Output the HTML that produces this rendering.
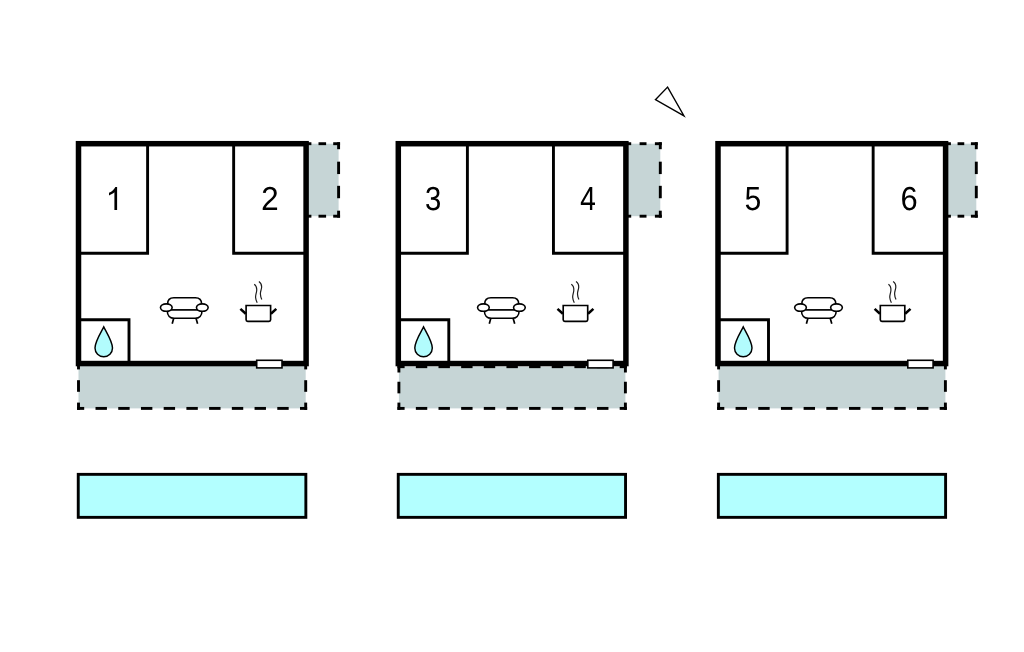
<!DOCTYPE html>
<html><head><meta charset="utf-8"><title>Floor plan</title>
<style>html,body{margin:0;padding:0;background:#fff;}svg{display:block;}text{font-family:"Liberation Sans",sans-serif;}</style></head>
<body><svg width="1024" height="652" viewBox="0 0 1024 652">
<rect width="1024" height="652" fill="#fff"/>
<g fill="#000">
<rect x="78.5" y="363.6" width="227.2" height="44.8" fill="#c6d5d6"/>
<rect x="77.05" y="406.95" width="7.15" height="2.9"/>
<rect x="95.52" y="406.95" width="11.4" height="2.9"/>
<rect x="118.24" y="406.95" width="11.4" height="2.9"/>
<rect x="140.96" y="406.95" width="11.4" height="2.9"/>
<rect x="163.68" y="406.95" width="11.4" height="2.9"/>
<rect x="186.4" y="406.95" width="11.4" height="2.9"/>
<rect x="209.12" y="406.95" width="11.4" height="2.9"/>
<rect x="231.84" y="406.95" width="11.4" height="2.9"/>
<rect x="254.56" y="406.95" width="11.4" height="2.9"/>
<rect x="277.28" y="406.95" width="11.4" height="2.9"/>
<rect x="300" y="406.95" width="7.15" height="2.9"/>
<rect x="77.05" y="362.15" width="2.9" height="7.25"/>
<rect x="77.05" y="380.2" width="2.9" height="11.6"/>
<rect x="77.05" y="402.6" width="2.9" height="7.25"/>
<rect x="304.25" y="362.15" width="2.9" height="7.25"/>
<rect x="304.25" y="380.2" width="2.9" height="11.6"/>
<rect x="304.25" y="402.6" width="2.9" height="7.25"/>
<rect x="306" y="143.7" width="32.6" height="72.5" fill="#c6d5d6"/>
<rect x="306" y="142.25" width="5.4" height="2.9"/>
<rect x="318.5" y="142.25" width="7.6" height="2.9"/>
<rect x="333.2" y="142.25" width="6.85" height="2.9"/>
<rect x="306" y="214.75" width="5.4" height="2.9"/>
<rect x="318.5" y="214.75" width="7.6" height="2.9"/>
<rect x="333.2" y="214.75" width="6.85" height="2.9"/>
<rect x="337.15" y="142.25" width="2.9" height="6.95"/>
<rect x="337.15" y="161.67" width="2.9" height="12.4"/>
<rect x="337.15" y="185.83" width="2.9" height="12.4"/>
<rect x="337.15" y="210.7" width="2.9" height="6.95"/>
<rect x="398.9" y="366.7" width="226.5" height="41.7" fill="#c6d5d6"/>
<rect x="397.45" y="406.95" width="7.15" height="2.9"/>
<rect x="415.85" y="406.95" width="11.4" height="2.9"/>
<rect x="438.5" y="406.95" width="11.4" height="2.9"/>
<rect x="461.15" y="406.95" width="11.4" height="2.9"/>
<rect x="483.8" y="406.95" width="11.4" height="2.9"/>
<rect x="506.45" y="406.95" width="11.4" height="2.9"/>
<rect x="529.1" y="406.95" width="11.4" height="2.9"/>
<rect x="551.75" y="406.95" width="11.4" height="2.9"/>
<rect x="574.4" y="406.95" width="11.4" height="2.9"/>
<rect x="597.05" y="406.95" width="11.4" height="2.9"/>
<rect x="619.7" y="406.95" width="7.15" height="2.9"/>
<rect x="397.45" y="365.25" width="7.15" height="2.9"/>
<rect x="415.85" y="365.25" width="11.4" height="2.9"/>
<rect x="438.5" y="365.25" width="11.4" height="2.9"/>
<rect x="461.15" y="365.25" width="11.4" height="2.9"/>
<rect x="483.8" y="365.25" width="11.4" height="2.9"/>
<rect x="506.45" y="365.25" width="11.4" height="2.9"/>
<rect x="529.1" y="365.25" width="11.4" height="2.9"/>
<rect x="551.75" y="365.25" width="11.4" height="2.9"/>
<rect x="574.4" y="365.25" width="11.4" height="2.9"/>
<rect x="597.05" y="365.25" width="11.4" height="2.9"/>
<rect x="619.7" y="365.25" width="7.15" height="2.9"/>
<rect x="397.45" y="365.25" width="2.9" height="7.25"/>
<rect x="397.45" y="381.75" width="2.9" height="11.6"/>
<rect x="397.45" y="402.6" width="2.9" height="7.25"/>
<rect x="623.95" y="365.25" width="2.9" height="7.25"/>
<rect x="623.95" y="381.75" width="2.9" height="11.6"/>
<rect x="623.95" y="402.6" width="2.9" height="7.25"/>
<rect x="625.8" y="143.7" width="34.5" height="72.5" fill="#c6d5d6"/>
<rect x="625.8" y="142.25" width="5.4" height="2.9"/>
<rect x="639.6" y="142.25" width="6.9" height="2.9"/>
<rect x="654.9" y="142.25" width="6.85" height="2.9"/>
<rect x="625.8" y="214.75" width="5.4" height="2.9"/>
<rect x="639.6" y="214.75" width="6.9" height="2.9"/>
<rect x="654.9" y="214.75" width="6.85" height="2.9"/>
<rect x="658.85" y="142.25" width="2.9" height="6.95"/>
<rect x="658.85" y="161.67" width="2.9" height="12.4"/>
<rect x="658.85" y="185.83" width="2.9" height="12.4"/>
<rect x="658.85" y="210.7" width="2.9" height="6.95"/>
<rect x="718.6" y="363.6" width="226.8" height="44.8" fill="#c6d5d6"/>
<rect x="717.15" y="406.95" width="7.15" height="2.9"/>
<rect x="735.58" y="406.95" width="11.4" height="2.9"/>
<rect x="758.26" y="406.95" width="11.4" height="2.9"/>
<rect x="780.94" y="406.95" width="11.4" height="2.9"/>
<rect x="803.62" y="406.95" width="11.4" height="2.9"/>
<rect x="826.3" y="406.95" width="11.4" height="2.9"/>
<rect x="848.98" y="406.95" width="11.4" height="2.9"/>
<rect x="871.66" y="406.95" width="11.4" height="2.9"/>
<rect x="894.34" y="406.95" width="11.4" height="2.9"/>
<rect x="917.02" y="406.95" width="11.4" height="2.9"/>
<rect x="939.7" y="406.95" width="7.15" height="2.9"/>
<rect x="717.15" y="362.15" width="2.9" height="7.25"/>
<rect x="717.15" y="380.2" width="2.9" height="11.6"/>
<rect x="717.15" y="402.6" width="2.9" height="7.25"/>
<rect x="943.95" y="362.15" width="2.9" height="7.25"/>
<rect x="943.95" y="380.2" width="2.9" height="11.6"/>
<rect x="943.95" y="402.6" width="2.9" height="7.25"/>
<rect x="945.5" y="143.7" width="30.8" height="72.5" fill="#c6d5d6"/>
<rect x="945.5" y="142.25" width="5.4" height="2.9"/>
<rect x="957.55" y="142.25" width="6.7" height="2.9"/>
<rect x="970.9" y="142.25" width="6.85" height="2.9"/>
<rect x="945.5" y="214.75" width="5.4" height="2.9"/>
<rect x="957.55" y="214.75" width="6.7" height="2.9"/>
<rect x="970.9" y="214.75" width="6.85" height="2.9"/>
<rect x="974.85" y="142.25" width="2.9" height="6.95"/>
<rect x="974.85" y="161.67" width="2.9" height="12.4"/>
<rect x="974.85" y="185.83" width="2.9" height="12.4"/>
<rect x="974.85" y="210.7" width="2.9" height="6.95"/>
</g>
<g transform="translate(0,0)" fill="none" stroke="#000">
<rect x="78.5" y="143.7" width="227.6" height="219.85" stroke-width="5.5"/>
<path d="M147.6,145 V253.25 H80" stroke-width="2.9"/>
<path d="M233.65,145 V253.25 H305" stroke-width="2.9"/>
<path d="M80,319.7 H129 V362" stroke-width="2.9"/>
<path d="M103.75,326.9 C101.5,331.5 95,341.5 95,348 A8.75,8.75 0 0 0 112.5,348 C112.5,341.5 106,331.5 103.75,326.9 Z" fill="#b2fcfd" stroke-width="1.45" stroke-linejoin="miter"/>
</g>
<rect x="256.7" y="360.3" width="25.3" height="7.6" fill="#fff" stroke="#000" stroke-width="1.6"/>
<g transform="translate(319.8,0)" fill="none" stroke="#000">
<rect x="78.5" y="143.7" width="227.6" height="219.85" stroke-width="5.5"/>
<path d="M147.6,145 V253.25 H80" stroke-width="2.9"/>
<path d="M233.65,145 V253.25 H305" stroke-width="2.9"/>
<path d="M80,319.7 H129 V362" stroke-width="2.9"/>
<path d="M103.75,326.9 C101.5,331.5 95,341.5 95,348 A8.75,8.75 0 0 0 112.5,348 C112.5,341.5 106,331.5 103.75,326.9 Z" fill="#b2fcfd" stroke-width="1.45" stroke-linejoin="miter"/>
</g>
<rect x="587.8" y="360.3" width="25.3" height="7.6" fill="#fff" stroke="#000" stroke-width="1.6"/>
<g transform="translate(639.5,0)" fill="none" stroke="#000">
<rect x="78.5" y="143.7" width="227.6" height="219.85" stroke-width="5.5"/>
<path d="M147.6,145 V253.25 H80" stroke-width="2.9"/>
<path d="M233.65,145 V253.25 H305" stroke-width="2.9"/>
<path d="M80,319.7 H129 V362" stroke-width="2.9"/>
<path d="M103.75,326.9 C101.5,331.5 95,341.5 95,348 A8.75,8.75 0 0 0 112.5,348 C112.5,341.5 106,331.5 103.75,326.9 Z" fill="#b2fcfd" stroke-width="1.45" stroke-linejoin="miter"/>
</g>
<rect x="907.8" y="360.3" width="25.3" height="7.6" fill="#fff" stroke="#000" stroke-width="1.6"/>
<g transform="translate(0,0)" fill="none" stroke="#000" stroke-width="1.6">
<path d="M167.6,304 C167.6,300 170,297.7 173.8,297.7 H195.4 C199.2,297.7 201.6,300 201.6,304"/>
<path d="M171,309.9 H198" stroke-width="1.7"/>
<path d="M167.3,311 C167.3,315.5 170,318.3 174.2,318.3 H195.1 C199.3,318.3 202,315.5 202,311"/>
<path d="M173.7,318.3 L172.2,323.8 M196,318.3 L197.6,323.8" stroke-width="1.7"/>
<ellipse cx="166.3" cy="307.6" rx="5.85" ry="3.7" fill="#fff"/>
<ellipse cx="202.3" cy="307.6" rx="5.85" ry="3.7" fill="#fff"/>
<path d="M246.1,305.5 H270.6 V319.7 Q270.6,321.3 269,321.3 H247.7 Q246.1,321.3 246.1,319.7 Z" fill="#fff" stroke-width="1.65"/>
<path d="M240.4,308.9 L245.8,313.7 M276.3,308.9 L270.9,313.7" stroke-width="2.6"/>
<path d="M254.2,284.2 C256.5,285.8 256.9,288 256.7,290.5 C256.4,293.5 255.4,295 255.6,297.5 C255.8,300 256.5,301.5 257.2,302.7 M258.9,281.4 C261.2,283 261.8,285 261.6,287.5 C261.3,290 260.3,291.5 260.4,294 C260.5,296.5 261.2,298.2 261.8,299.5" stroke="#1c1c1c" stroke-width="1.2"/>
</g>
<g transform="translate(317.1,0)" fill="none" stroke="#000" stroke-width="1.6">
<path d="M167.6,304 C167.6,300 170,297.7 173.8,297.7 H195.4 C199.2,297.7 201.6,300 201.6,304"/>
<path d="M171,309.9 H198" stroke-width="1.7"/>
<path d="M167.3,311 C167.3,315.5 170,318.3 174.2,318.3 H195.1 C199.3,318.3 202,315.5 202,311"/>
<path d="M173.7,318.3 L172.2,323.8 M196,318.3 L197.6,323.8" stroke-width="1.7"/>
<ellipse cx="166.3" cy="307.6" rx="5.85" ry="3.7" fill="#fff"/>
<ellipse cx="202.3" cy="307.6" rx="5.85" ry="3.7" fill="#fff"/>
<path d="M246.1,305.5 H270.6 V319.7 Q270.6,321.3 269,321.3 H247.7 Q246.1,321.3 246.1,319.7 Z" fill="#fff" stroke-width="1.65"/>
<path d="M240.4,308.9 L245.8,313.7 M276.3,308.9 L270.9,313.7" stroke-width="2.6"/>
<path d="M254.2,284.2 C256.5,285.8 256.9,288 256.7,290.5 C256.4,293.5 255.4,295 255.6,297.5 C255.8,300 256.5,301.5 257.2,302.7 M258.9,281.4 C261.2,283 261.8,285 261.6,287.5 C261.3,290 260.3,291.5 260.4,294 C260.5,296.5 261.2,298.2 261.8,299.5" stroke="#1c1c1c" stroke-width="1.2"/>
</g>
<g transform="translate(634.2,0)" fill="none" stroke="#000" stroke-width="1.6">
<path d="M167.6,304 C167.6,300 170,297.7 173.8,297.7 H195.4 C199.2,297.7 201.6,300 201.6,304"/>
<path d="M171,309.9 H198" stroke-width="1.7"/>
<path d="M167.3,311 C167.3,315.5 170,318.3 174.2,318.3 H195.1 C199.3,318.3 202,315.5 202,311"/>
<path d="M173.7,318.3 L172.2,323.8 M196,318.3 L197.6,323.8" stroke-width="1.7"/>
<ellipse cx="166.3" cy="307.6" rx="5.85" ry="3.7" fill="#fff"/>
<ellipse cx="202.3" cy="307.6" rx="5.85" ry="3.7" fill="#fff"/>
<path d="M246.1,305.5 H270.6 V319.7 Q270.6,321.3 269,321.3 H247.7 Q246.1,321.3 246.1,319.7 Z" fill="#fff" stroke-width="1.65"/>
<path d="M240.4,308.9 L245.8,313.7 M276.3,308.9 L270.9,313.7" stroke-width="2.6"/>
<path d="M254.2,284.2 C256.5,285.8 256.9,288 256.7,290.5 C256.4,293.5 255.4,295 255.6,297.5 C255.8,300 256.5,301.5 257.2,302.7 M258.9,281.4 C261.2,283 261.8,285 261.6,287.5 C261.3,290 260.3,291.5 260.4,294 C260.5,296.5 261.2,298.2 261.8,299.5" stroke="#1c1c1c" stroke-width="1.2"/>
</g>
<rect x="78.25" y="474.35" width="227.6" height="43" fill="#b3ffff" stroke="#000" stroke-width="2.9"/>
<rect x="398.25" y="474.35" width="227.3" height="43" fill="#b3ffff" stroke="#000" stroke-width="2.9"/>
<rect x="718.35" y="474.35" width="227.25" height="43" fill="#b3ffff" stroke="#000" stroke-width="2.9"/>
<polygon points="655.4,99.7 667.6,87.1 684,115.9" fill="#fff" stroke="#000" stroke-width="1.35" stroke-linejoin="miter"/>
<g fill="#000">
<path transform="matrix(0.01500,0,0,-0.01562,105.66,210.1)" d="M763 0H583V1147Q518 1085 412.5 1023Q307 961 223 930V1104Q374 1175 487 1276Q600 1377 647 1472H763Z"/>
<path transform="matrix(0.01543,0,0,-0.01632,261.11,210.1)" d="M103 0V127Q154 244 227.5 333.5Q301 423 382.0 495.5Q463 568 542.5 630.0Q622 692 686.0 754.0Q750 816 789.5 884.0Q829 952 829 1038Q829 1154 761.0 1218.0Q693 1282 572 1282Q457 1282 382.5 1219.5Q308 1157 295 1044L111 1061Q131 1230 254.5 1330.0Q378 1430 572 1430Q785 1430 899.5 1329.5Q1014 1229 1014 1044Q1014 962 976.5 881.0Q939 800 865.0 719.0Q791 638 582 468Q467 374 399.0 298.5Q331 223 301 153H1036V0Z"/>
<path transform="matrix(0.01432,0,0,-0.01632,424.98,210.1)" d="M1049 389Q1049 194 925.0 87.0Q801 -20 571 -20Q357 -20 229.5 76.5Q102 173 78 362L264 379Q300 129 571 129Q707 129 784.5 196.0Q862 263 862 395Q862 510 773.5 574.5Q685 639 518 639H416V795H514Q662 795 743.5 859.5Q825 924 825 1038Q825 1151 758.5 1216.5Q692 1282 561 1282Q442 1282 368.5 1221.0Q295 1160 283 1049L102 1063Q122 1236 245.5 1333.0Q369 1430 563 1430Q775 1430 892.5 1331.5Q1010 1233 1010 1057Q1010 922 934.5 837.5Q859 753 715 723V719Q873 702 961.0 613.0Q1049 524 1049 389Z"/>
<path transform="matrix(0.01376,0,0,-0.01632,580.15,210.1)" d="M881 319V0H711V319H47V459L692 1409H881V461H1079V319ZM711 1206Q709 1200 683.0 1153.0Q657 1106 644 1087L283 555L229 481L213 461H711Z"/>
<path transform="matrix(0.01462,0,0,-0.01632,744.6,210.1)" d="M1053 459Q1053 236 920.5 108.0Q788 -20 553 -20Q356 -20 235.0 66.0Q114 152 82 315L264 336Q321 127 557 127Q702 127 784.0 214.5Q866 302 866 455Q866 588 783.5 670.0Q701 752 561 752Q488 752 425.0 729.0Q362 706 299 651H123L170 1409H971V1256H334L307 809Q424 899 598 899Q806 899 929.5 777.0Q1053 655 1053 459Z"/>
<path transform="matrix(0.01503,0,0,-0.01632,900.54,210.1)" d="M1049 461Q1049 238 928.0 109.0Q807 -20 594 -20Q356 -20 230.0 157.0Q104 334 104 672Q104 1038 235.0 1234.0Q366 1430 608 1430Q927 1430 1010 1143L838 1112Q785 1284 606 1284Q452 1284 367.5 1140.5Q283 997 283 725Q332 816 421.0 863.5Q510 911 625 911Q820 911 934.5 789.0Q1049 667 1049 461ZM866 453Q866 606 791.0 689.0Q716 772 582 772Q456 772 378.5 698.5Q301 625 301 496Q301 333 381.5 229.0Q462 125 588 125Q718 125 792.0 212.5Q866 300 866 453Z"/>
</g>
</svg></body></html>
